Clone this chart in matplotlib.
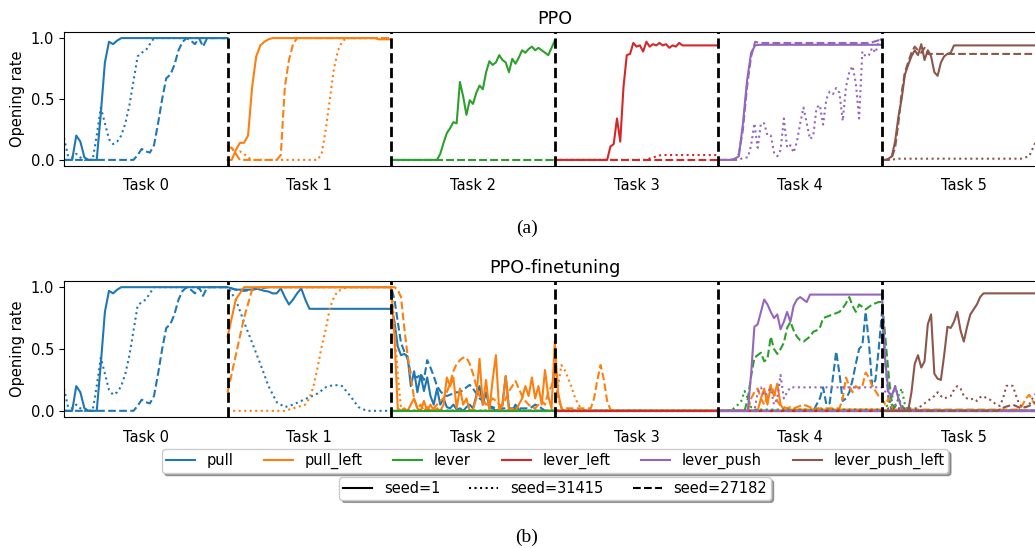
import numpy as np
import matplotlib
matplotlib.use('Agg')
import matplotlib.pyplot as plt
from matplotlib.lines import Line2D

plt.rcParams['font.size'] = 10.5

skills = ['pull', 'pull_left', 'lever', 'lever_left', 'lever_push', 'lever_push_left']
colors = ['C0', 'C1', 'C2', 'C3', 'C4', 'C5']
seeds = ['seed=1', 'seed=31415', 'seed=27182']
seed_styles = ['-', ':', '--']
task_labels = ['Task 0', 'Task 1', 'Task 2', 'Task 3', 'Task 4', 'Task 5']

flat_zero = [0.0, 0.0]

# ---- (a) PPO: each task trains its own skill (values evenly spaced over the task)
ppo_pull_s1 = [0, 0, 0, 0.2, 0.15, 0.02, 0, 0, 0, 0.38, 0.8, 0.97, 0.95, 0.98, 1.0] + [1.0]*26
ppo_pull_s31415 = [0.18, 0.03, 0.02, 0.05, 0.02, 0, 0, 0, 0.2, 0.43, 0.3, 0.17, 0.13, 0.15, 0.2, 0.3,
                   0.45, 0.65, 0.85, 0.88, 0.9, 0.95, 1.0] + [1.0]*18
ppo_pull_s27182 = [0.0]*17 + [0.0, 0.04, 0.09, 0.07, 0.06, 0.12, 0.3, 0.5, 0.67, 0.7, 0.78, 0.9, 0.97,
                              1.0, 0.98, 0.95, 1.0, 0.93, 1.0] + [1.0]*5

ppo_pull_left_s1 = [0, 0, 0.08, 0.14, 0.14, 0.2, 0.6, 0.85, 0.94, 0.97, 0.99, 1.0] + [1.0]*25 + [0.99]*4
ppo_pull_left_s31415 = [0.12, 0.1, 0.05, 0.07, 0.05, 0.02] + [0.0]*17 + [0.05, 0.25, 0.5, 0.75, 0.9, 0.97, 1.0] + [1.0]*11
ppo_pull_left_s27182 = [0.1, 0.1, 0.05] + [0.0]*10 + [0.04, 0.6, 0.82, 0.95, 1.0] + [1.0]*23

ppo_lever_s1 = [0.0]*15 + [0.05, 0.14, 0.22, 0.26, 0.31, 0.3, 0.64, 0.52, 0.37, 0.49, 0.46, 0.55, 0.61,
                           0.58, 0.72, 0.81, 0.78, 0.8, 0.86, 0.82, 0.8, 0.72, 0.83, 0.79, 0.84, 0.9,
                           0.88, 0.91, 0.93, 0.9, 0.92, 0.9, 0.88, 0.86, 0.92, 0.98]
ppo_lever_s31415 = flat_zero
ppo_lever_s27182 = flat_zero

ppo_lever_left_s1 = [0.0]*17 + [0.11, 0.13, 0.34, 0.15, 0.6, 0.86, 0.87, 0.96, 0.93, 0.94, 0.89, 0.97,
                                0.93, 0.95, 0.94, 0.96, 0.94, 0.95, 0.92, 0.94, 0.93, 0.96] + [0.94]*12
ppo_lever_left_s31415 = [0.0]*12 + [0.02, 0.04] + [0.04]*7
ppo_lever_left_s27182 = flat_zero

ppo_lever_push_s1 = [0, 0, 0, 0, 0.01, 0.03, 0.3, 0.65, 0.88, 0.94] + [0.945]*31
ppo_lever_push_s31415 = [0, 0, 0, 0, 0, 0, 0, 0.01, 0.02, 0.02, 0.12, 0.3, 0.1, 0.3, 0.3, 0.2, 0.2,
                         0.06, 0.03, 0.08, 0.34, 0.1, 0.12, 0.06, 0.15, 0.3, 0.43, 0.3, 0.17, 0.2,
                         0.43, 0.45, 0.29, 0.5, 0.56, 0.54, 0.59, 0.55, 0.32, 0.6, 0.72, 0.77, 0.63,
                         0.34, 0.89, 0.85, 0.86, 0.92, 0.88, 0.97, 1.0]
ppo_lever_push_s27182 = [0]*5 + [0.05, 0.25, 0.6, 0.85, 0.97] + [0.96]*28 + [0.97, 0.98, 0.99]

ppo_lever_push_left_s1 = [0, 0, 0.01, 0.03, 0.15, 0.35, 0.5, 0.7, 0.78, 0.85, 0.9, 0.86, 0.95, 0.82,
                          0.9, 0.85, 0.72, 0.69, 0.8, 0.85, 0.87, 0.88, 0.94] + [0.94]*28
ppo_lever_push_left_s31415 = [0.0, 0.0] + [0.01]*16 + [0.03, 0.18, 0.4]
ppo_lever_push_left_s27182 = [0, 0, 0, 0.02, 0.1, 0.3, 0.55, 0.72, 0.8, 0.88, 0.93, 0.9, 0.88, 0.92, 0.87] + [0.87]*36

# ---- (b) PPO-finetuning: each skill from its own task to the last one (one list per task)
ft_pull_s1 = [
    ppo_pull_s1,
    [1.0, 0.99, 0.98, 0.98, 0.98, 0.98, 0.98, 0.99, 0.98, 0.97, 0.965, 0.95, 0.95, 0.99, 0.92, 0.86,
     0.9, 0.95, 0.99, 0.9, 0.825] + [0.825]*20,
    [0.85, 0.72, 0.52, 0.45, 0.46, 0.44, 0.2, 0.32, 0.15, 0.29, 0.16, 0.27, 0.12, 0.05, 0.18, 0.05,
     0.1, 0.03, 0.02, 0.05, 0.01, 0.02, 0.0, 0.03, 0.05, 0.02, 0.12, 0.2, 0.05, 0.15, 0.03, 0.02,
     0.0, 0.01, 0.05, 0.28, 0.02, 0.0, 0.05, 0.01, 0.0] + [0.0]*10,
    flat_zero, flat_zero, flat_zero]
ft_pull_s31415 = [
    ppo_pull_s31415,
    [1.0, 0.9, 0.72, 0.55, 0.38, 0.2, 0.07, 0.03, 0.05, 0.08, 0.11, 0.14, 0.19, 0.21, 0.2, 0.12,
     0.03, 0.0, 0.0, 0.0, 0.0],
    flat_zero, flat_zero, flat_zero, flat_zero]
ft_pull_s27182 = [
    ppo_pull_s27182,
    [1.0, 0.98, 0.97, 0.98, 0.99] + [1.0]*16,
    [1.0, 0.9, 0.72, 0.55, 0.48, 0.42, 0.3, 0.28, 0.27, 0.3, 0.25, 0.41, 0.35, 0.28, 0.2, 0.16, 0.13,
     0.12, 0.13, 0.14, 0.15, 0.15, 0.17, 0.19, 0.21, 0.18, 0.14, 0.1, 0.08, 0.06, 0.04, 0.03, 0.02,
     0.01, 0.02] + [0.02]*8 + [0.03, 0.05, 0.04, 0.02, 0.0, 0.0, 0.0, 0.0],
    flat_zero,
    [0.0]*30 + [0.05, 0.1, 0.19, 0.05, 0.06, 0.27, 0.48, 0.3, 0.08, 0.1, 0.15, 0.25, 0.38, 0.5, 0.53,
                0.8, 0.55, 0.2, 0.25, 0.5, 0.8],
    [0.8, 0.4, 0.1, 0.0] + [0.0]*47]

ft_pull_left_s1 = [
    [0.6, 0.9, 1.0] + [1.0]*18,
    [1.0, 0.6, 0.02, 0.0, 0.02, 0.0, 0.05, 0.1, 0.02, 0.0, 0.08, 0.0, 0.05, 0.0, 0.02, 0.0, 0.05,
     0.27, 0.2, 0.27, 0.02, 0.18, 0.05, 0.1, 0.0, 0.01, 0.1, 0.42, 0.05, 0.25, 0.0, 0.25, 0.45, 0.0,
     0.05, 0.28, 0.0, 0.02, 0.0, 0.05, 0.1, 0.2, 0.12, 0.27, 0.1, 0.2, 0.05, 0.33, 0.12, 0.02, 0.56],
    [0.56, 0.15, 0.02] + [0.0]*48,
    [0.0]*13 + [0.1, 0.18, 0.05, 0.2, 0.12, 0.22, 0.05] + [0.01]*31,
    flat_zero]
ft_pull_left_s31415 = [
    [0.0]*15 + [0.01, 0.02, 0.03, 0.04, 0.05, 0.1, 0.2, 0.35, 0.52, 0.66, 0.83, 0.92, 0.97, 0.98,
                1.0] + [1.0]*11,
    [1.0, 0.7, 0.3, 0.02] + [0.0]*47,
    [0.02, 0.2, 0.37, 0.33, 0.27, 0.2, 0.12, 0.06, 0.02] + [0.0]*42,
    flat_zero, flat_zero]
ft_pull_left_s27182 = [
    [0.15, 0.45, 0.75, 0.98] + [1.0]*17,
    [1.0, 1.0, 0.98, 0.92, 0.67, 0.45, 0.27, 0.1, 0.02, 0.05, 0.0, 0.03, 0.0, 0.02, 0.05, 0.08, 0.1,
     0.15, 0.22, 0.32, 0.38, 0.41, 0.43, 0.43, 0.38, 0.3, 0.2, 0.12, 0.08, 0.05, 0.07, 0.1, 0.08,
     0.05, 0.04, 0.1, 0.16, 0.2, 0.24, 0.18, 0.12, 0.08, 0.05, 0.03, 0.02, 0.05, 0.08, 0.05, 0.15,
     0.2, 0.3],
    [0.3, 0.1, 0.03] + [0.02]*9 + [0.1, 0.25, 0.37, 0.25, 0.08, 0.01] + [0.0]*33,
    [0.0]*10 + [0.1, 0.15, 0.18, 0.1, 0.05, 0.12, 0.21, 0.15, 0.08, 0.04, 0.03, 0.02, 0.03, 0.02,
                0.03, 0.04, 0.05, 0.04, 0.03, 0.02] + [0.02]*8 +
    [0.1, 0.27, 0.2, 0.15, 0.2, 0.18, 0.2, 0.31, 0.27, 0.2, 0.16, 0.12, 0.1],
    [0.1, 0.05, 0.1, 0.03] + [0.01]*39 + [0.05, 0.1, 0.13, 0.08, 0.05, 0.1, 0.12, 0.1]]

ft_lever_s1 = [flat_zero, flat_zero, flat_zero, flat_zero]
ft_lever_s31415 = [
    flat_zero, flat_zero,
    [0.0]*5 + [0.03, 0.05, 0.08, 0.16, 0.1, 0.03] + [0.01]*40,
    [0.01, 0.03, 0.05, 0.1, 0.2, 0.12, 0.18, 0.05, 0.01] + [0.0]*42]
ft_lever_s27182 = [
    flat_zero, flat_zero,
    [0.0]*9 + [0.1, 0.28, 0.43, 0.45, 0.47, 0.4, 0.42, 0.6, 0.5, 0.46, 0.5, 0.55, 0.67, 0.72, 0.65,
               0.6, 0.57, 0.56, 0.58, 0.6, 0.64, 0.65, 0.67, 0.75, 0.76, 0.77, 0.78, 0.79, 0.8, 0.83,
               0.87, 0.92, 0.85, 0.8, 0.86, 0.84, 0.82, 0.84, 0.86, 0.87, 0.88, 0.88],
    [0.88, 0.6, 0.3, 0.05, 0.03, 0.1, 0.05, 0.0] + [0.0]*43]

ft_lever_left_s1 = [flat_zero, flat_zero, flat_zero]
ft_lever_left_s31415 = [flat_zero, flat_zero, flat_zero]
ft_lever_left_s27182 = [flat_zero, flat_zero, flat_zero]

ft_lever_push_s1 = [
    [0.0]*10 + [0.3, 0.68, 0.7, 0.8, 0.9, 0.86, 0.8, 0.75, 0.78, 0.66, 0.72, 0.8, 0.72, 0.85, 0.9,
                0.92, 0.9, 0.88, 0.94] + [0.94]*22,
    [0.94, 0.4, 0.15, 0.12, 0.2, 0.1, 0.02] + [0.0]*44]
ft_lever_push_s31415 = [
    [0.0]*12 + [0.15, 0.19, 0.12, 0.15, 0.18, 0.05, 0.1, 0.29, 0.1, 0.15, 0.19] + [0.19]*28,
    [0.19, 0.1, 0.02, 0.0] + [0.0]*17]
ft_lever_push_s27182 = [flat_zero, flat_zero]

ft_lever_push_left_s1 = [
    [0.0]*9 + [0.15, 0.38, 0.45, 0.35, 0.4, 0.7, 0.78, 0.3, 0.26, 0.25, 0.45, 0.68, 0.67, 0.72, 0.8,
               0.65, 0.56, 0.68, 0.78, 0.82, 0.86, 0.92, 0.95] + [0.95]*19]
ft_lever_push_left_s31415 = [
    [0.0, 0.01, 0.02, 0.02] + [0.02]*8 +
    [0.04, 0.06, 0.08, 0.1, 0.12, 0.15, 0.12, 0.1, 0.11, 0.12, 0.17, 0.2, 0.18, 0.12, 0.1, 0.09,
     0.1, 0.08, 0.11, 0.12, 0.1, 0.09, 0.07, 0.05, 0.04, 0.1, 0.2, 0.21, 0.2, 0.12, 0.05, 0.03,
     0.03, 0.05, 0.1, 0.14, 0.12, 0.1, 0.08]]
ft_lever_push_left_s27182 = [[0.0]*15 + [0.03, 0.05, 0.02, 0.04, 0.08, 0.1]]

ppo_runs = [
    [ppo_pull_s1, ppo_pull_s31415, ppo_pull_s27182],
    [ppo_pull_left_s1, ppo_pull_left_s31415, ppo_pull_left_s27182],
    [ppo_lever_s1, ppo_lever_s31415, ppo_lever_s27182],
    [ppo_lever_left_s1, ppo_lever_left_s31415, ppo_lever_left_s27182],
    [ppo_lever_push_s1, ppo_lever_push_s31415, ppo_lever_push_s27182],
    [ppo_lever_push_left_s1, ppo_lever_push_left_s31415, ppo_lever_push_left_s27182],
]
ft_runs = [
    [ft_pull_s1, ft_pull_s31415, ft_pull_s27182],
    [ft_pull_left_s1, ft_pull_left_s31415, ft_pull_left_s27182],
    [ft_lever_s1, ft_lever_s31415, ft_lever_s27182],
    [ft_lever_left_s1, ft_lever_left_s31415, ft_lever_left_s27182],
    [ft_lever_push_s1, ft_lever_push_s31415, ft_lever_push_s27182],
    [ft_lever_push_left_s1, ft_lever_push_left_s31415, ft_lever_push_left_s27182],
]


def task_x(task, vals):
    return task + np.linspace(0, 1, len(vals))


def style_axes(ax, title):
    ax.set_xlim(0, 6)
    ax.set_ylim(-0.05, 1.05)
    ax.set_xticks(np.arange(6) + 0.5)
    ax.set_xticklabels(task_labels)
    ax.tick_params(axis='x', length=0, pad=9)
    ax.set_yticks([0.0, 0.5, 1.0])
    ax.set_ylabel('Opening rate')
    ax.set_title(title)
    for t in range(1, 6):
        ax.axvline(t, color='k', ls='--', lw=2, zorder=5)


fig = plt.figure(figsize=(10.35, 5.48), dpi=100)
ax_a = fig.add_axes([64/1035, 1-166/548, 981.6/1035, 134/548])
ax_b = fig.add_axes([64/1035, 1-417/548, 981.6/1035, 136/548])

for task, runs in enumerate(ppo_runs):
    for vals, ls in zip(runs, seed_styles):
        ax_a.plot(task_x(task, vals), vals, color=colors[task], ls=ls)
style_axes(ax_a, 'PPO')

for start, runs in enumerate(ft_runs):
    for segs, ls in zip(runs, seed_styles):
        xs = np.concatenate([task_x(start + k, s) for k, s in enumerate(segs)])
        ys = np.concatenate([np.asarray(s, float) for s in segs])
        ax_b.plot(xs, ys, color=colors[start], ls=ls)
style_axes(ax_b, 'PPO-finetuning')

skill_handles = [Line2D([], [], color=c, label=s) for c, s in zip(colors, skills)]
seed_handles = [Line2D([], [], color='k', ls=ls, label=s) for ls, s in zip(seed_styles, seeds)]
fig.legend(handles=skill_handles, loc='upper center', bbox_to_anchor=(555/1035, 1-442/548),
           ncol=6, shadow=True, fancybox=True, framealpha=1, borderpad=0.25, columnspacing=2.1)
fig.legend(handles=seed_handles, loc='upper center', bbox_to_anchor=(555/1035, 1-470/548),
           ncol=3, shadow=True, fancybox=True, framealpha=1, borderpad=0.25)

fig.text(527/1035, 1-228/548, '(a)', ha='center', va='center', family='Liberation Serif', size=14)
fig.text(527/1035, 1-537/548, '(b)', ha='center', va='center', family='Liberation Serif', size=14)

fig.savefig('out.png', dpi=100)
